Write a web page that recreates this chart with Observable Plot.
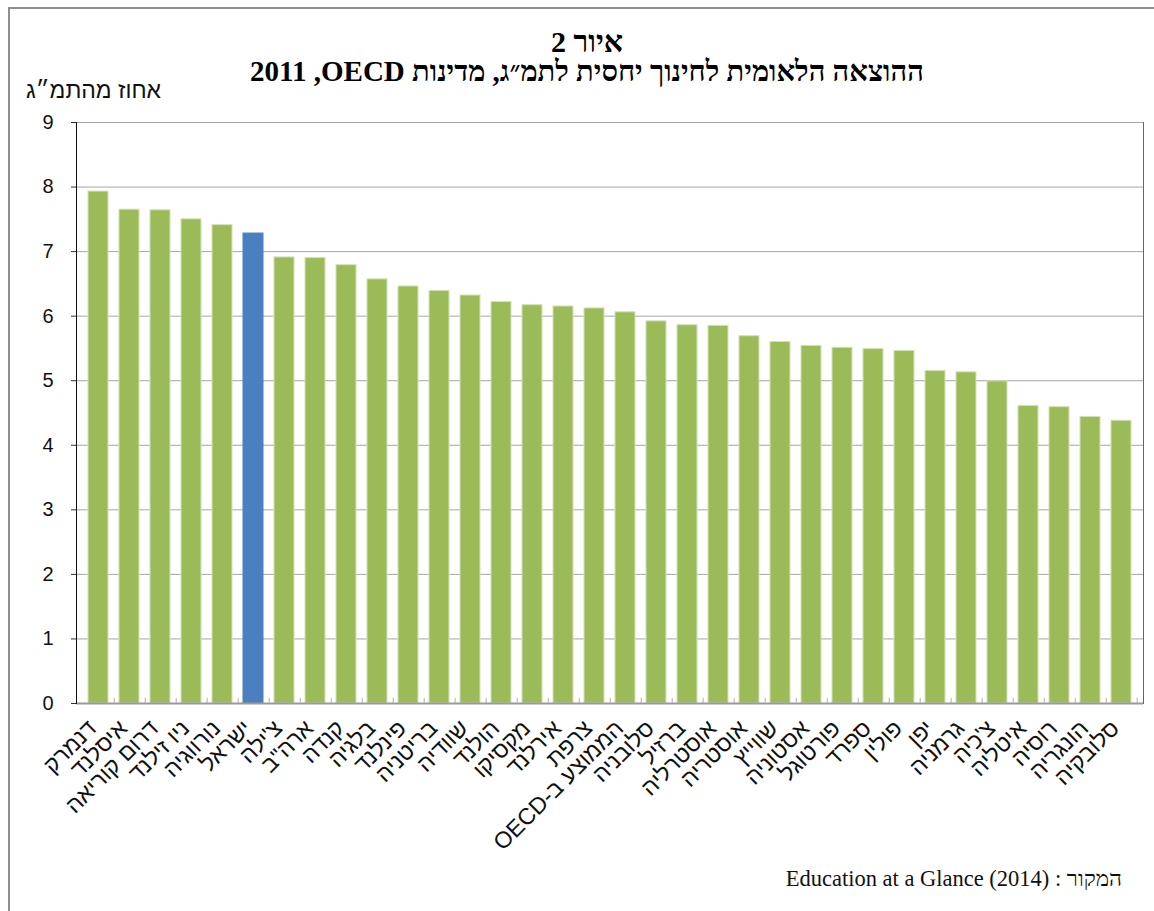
<!DOCTYPE html>
<html>
<head>
<meta charset="utf-8">
<script src="https://cdn.jsdelivr.net/npm/d3@7"></script>
<script src="https://cdn.jsdelivr.net/npm/@observablehq/plot@0.6"></script>
<style>
  body { margin: 0; background: #fff; width: 1154px; height: 911px; overflow: hidden; position: relative; }
  #frame { position: absolute; left: 8px; top: 7px; width: 1300px; height: 1000px; border-left: 2px solid #8e8e8e; border-top: 2px solid #8e8e8e; pointer-events: none; }
  #head { position: relative; height: 110px; }
  .t { position: absolute; left: 20px; width: 1134px; text-align: center; font-family: "Liberation Serif", serif; font-weight: bold; line-height: 28px; height: 28px; color: #000; white-space: nowrap; }
  #ylab { position: absolute; left: 26px; top: 79px; font-family: "Liberation Sans", sans-serif; font-size: 23px; line-height: 1; color: #111; white-space: nowrap; }
  #chart { height: 750px; }
  #foot { position: relative; height: 51px; }
  #src { position: absolute; right: 32px; top: 7px; font-family: "Liberation Serif", serif; font-size: 22.5px; line-height: 1.1; color: #111; white-space: nowrap; }
</style>
</head>
<body>
<div id="frame"></div>
<div id="head">
  <div class="t" dir="rtl" style="top:28px;font-size:30px">איור 2</div>
  <div class="t" dir="rtl" style="top:57px;font-size:29px">ההוצאה הלאומית לחינוך יחסית לתמ״ג, מדינות OECD,&#x200F; 2011</div>
  <div id="ylab" dir="rtl">אחוז מהתמ״ג</div>
</div>
<div id="chart"></div>
<div id="foot">
  <div id="src" dir="rtl">המקור : Education at a Glance (2014)</div>
</div>
<script>
const countries = ["דנמרק","איסלנד","דרום קוריאה","ניו זילנד","נורווגיה","ישראל","צ'ילה","ארה\"ב","קנדה","בלגיה","פינלנד","בריטניה","שוודיה","הולנד","מקסיקו","אירלנד","צרפת","הממוצע ב-OECD","סלובניה","ברזיל","אוסטרליה","אוסטריה","שווייץ","אסטוניה","פורטוגל","ספרד","פולין","יפן","גרמניה","צ'כיה","איטליה","רוסיה","הונגריה","סלובקיה"];
const values = [7.93,7.65,7.64,7.50,7.41,7.28,6.91,6.90,6.79,6.57,6.46,6.39,6.32,6.22,6.17,6.15,6.12,6.06,5.92,5.86,5.85,5.69,5.60,5.54,5.51,5.49,5.46,5.15,5.13,4.99,4.61,4.59,4.44,4.38];
const highlight = "ישראל";
const yTicks = [0,1,2,3,4,5,6,7,8,9];

const data = countries.map((c, i) => ({country: c, value: values[i]}));
const green = "#9bbb59", blue = "#4a80c0";
const W = 1154, ML = 76, MR = 11;
const halfStep = (W - ML - MR) / countries.length / 2;

const chart = Plot.plot({
  width: W,
  height: 750,
  marginTop: 12,
  marginBottom: 157,
  marginLeft: ML,
  marginRight: MR,
  style: {fontFamily: "Liberation Sans, sans-serif", fontSize: "19px", color: "#111", background: "transparent", overflow: "visible"},
  x: {domain: countries, paddingInner: 0.35, paddingOuter: 0.175, label: null},
  y: {domain: [0, 9], label: null},
  marks: [
    Plot.gridY(yTicks, {stroke: "#a6a6a6", strokeOpacity: 1, strokeWidth: 1}),
    Plot.barY(data, {x: "country", y: "value", fill: d => d.country === highlight ? blue : green, stroke: d => d.country === highlight ? blue : "#d3e2b6", strokeWidth: 1}),
    Plot.ruleY([0], {stroke: "#9a9a9a", strokeWidth: 2}),
    Plot.ruleX(countries, {x: d => d, y1: 0, y2: 0.08, dx: halfStep, stroke: "#b0b0b0"}),
    Plot.frame({anchor: "left", stroke: "#111"}),
    Plot.frame({anchor: "right", stroke: "#666"}),
    Plot.axisY({ticks: yTicks, tickSize: 5, tickPadding: 18, fontSize: 20, tickFormat: d => String(d), stroke: "#333"}),
    Plot.axisX({tickRotate: -45, tickSize: 0, tickPadding: 21, dx: -6, fontSize: 23, textAnchor: "end", tickFormat: d => "\u202B" + d + "\u202C"})
  ]
});
document.getElementById("chart").appendChild(chart);
</script>
</body>
</html>
